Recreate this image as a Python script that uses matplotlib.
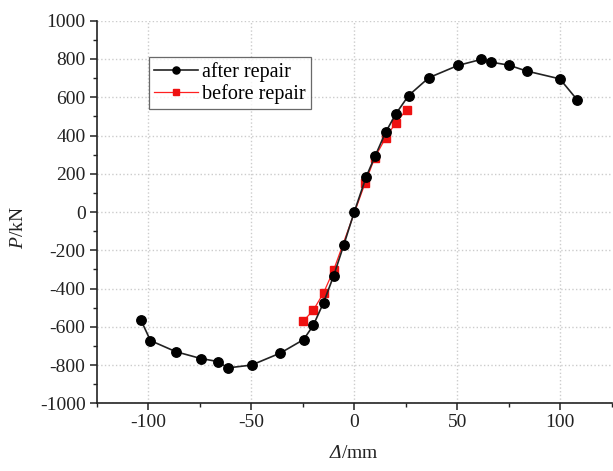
import matplotlib
matplotlib.use("Agg")
import matplotlib.pyplot as plt
from matplotlib.ticker import MultipleLocator

plt.rcParams['font.family'] = ['Liberation Serif', 'DejaVu Serif']
plt.rcParams['mathtext.fontset'] = 'custom'
plt.rcParams['mathtext.rm'] = 'Liberation Serif:italic'
plt.rcParams['mathtext.it'] = 'Liberation Serif:italic'
plt.rcParams['axes.unicode_minus'] = False

after_x = [-103.6, -98.9, -86.6, -74.4, -65.9, -61.5, -49.8, -35.8, -24.6, -19.9,
           -14.9, -10.0, -5.0, 0.0, 5.8, 10.2, 15.2, 20.2, 26.4, 36.2,
           50.3, 61.7, 66.2, 74.9, 83.7, 99.8, 108.1]
after_y = [-563, -672, -730, -766, -782, -815, -800, -737, -667, -593,
           -474, -334, -170, 0, 184, 294, 416, 513, 609, 702,
           766, 798, 784, 768, 737, 696, 588]

before_x = [-24.9, -19.9, -14.9, -10.0, 5.3, 10.0, 15.2, 20.2, 25.4]
before_y = [-572, -514, -423, -304, 152, 285, 387, 467, 534]

fig = plt.figure(figsize=(6.13, 4.71), dpi=100)
ax = fig.add_axes([0.1577, 0.1437, 0.8403, 0.8123])

ax.plot(after_x, after_y, '-o', color='#222222', lw=1.2, ms=6.8,
        mfc='black', mec='black', label='after repair', zorder=4)
ax.plot(before_x, before_y, '-s', color='#ff2020', lw=0.9, ms=5.2,
        mfc='#ee1111', mec='#ee1111', label='before repair', zorder=3)

ax.set_xlim(-125, 125)
ax.set_ylim(-1000, 1000)
ax.xaxis.set_major_locator(MultipleLocator(50))
ax.xaxis.set_minor_locator(MultipleLocator(25))
ax.yaxis.set_major_locator(MultipleLocator(200))
ax.yaxis.set_minor_locator(MultipleLocator(100))

for s in ['top', 'right']:
    ax.spines[s].set_visible(False)
for s in ['left', 'bottom']:
    ax.spines[s].set_linewidth(1.2)
    ax.spines[s].set_color('#222222')

ax.tick_params(which='major', direction='out', length=5, width=1.1,
               labelsize=14, colors='#222222', pad=3)
ax.tick_params(which='minor', direction='out', length=3, width=1.0, colors='#222222')

ax.grid(True, which='major', color='#cccccc', linestyle=':', lw=1.0)
ax.set_axisbelow(True)

ax.set_xlabel(r'$Δ$/mm', fontsize=14, color='#222222')
ax.set_ylabel(r'$P$/kN', fontsize=14, color='#222222')
ax.xaxis.set_label_coords(0.5, -0.108)
ax.yaxis.set_label_coords(-0.135, 0.46)

leg = ax.legend(loc='upper left', bbox_to_anchor=(0.101, 0.905), borderaxespad=0,
                fontsize=14.5, frameon=True, fancybox=False, handlelength=2.2,
                handletextpad=0.2, borderpad=0.25, labelspacing=0.1,
                markerscale=0.75)
leg.get_frame().set_edgecolor('#444444')
leg.get_frame().set_linewidth(0.9)

fig.savefig('out.png', dpi=100)
